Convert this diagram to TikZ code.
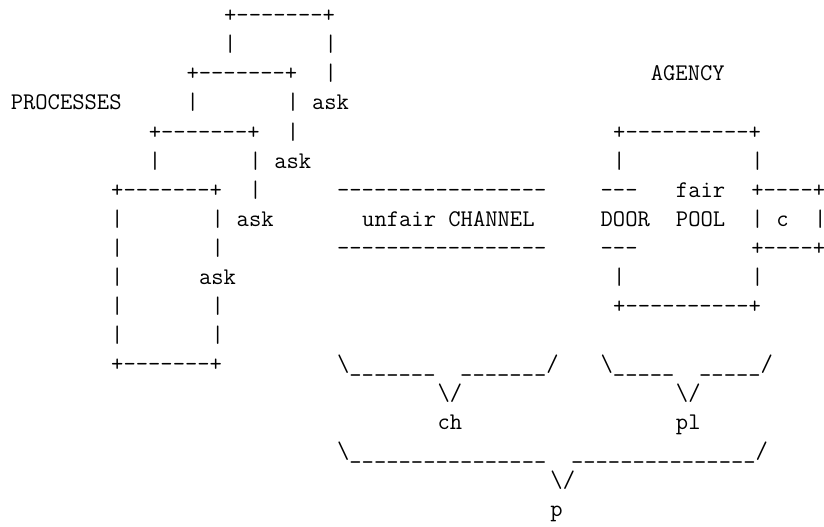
\documentclass[tikz,border=0pt]{standalone}
\newcommand\asciifont{\ttfamily\fontsize{17.93pt}{21.8pt}\selectfont}
% repeat a glyph n times, each in its own group so no ligatures form
\newcommand\rpt[2]{\foreach \k in {1,...,#1}{#2}}
\newcommand\bs{\textbackslash}
\tikzset{ascii/.style={anchor=base west, inner sep=0pt, outer sep=0pt, font=\asciifont}}
\begin{document}
\begin{tikzpicture}
\fill[white] (0pt,0pt) rectangle (618pt,-395.25pt);
\useasboundingbox (0pt,0pt) rectangle (618pt,-395.25pt);
\begin{scope}[shift={(8.1pt,-17.1pt)}, x=9.4125pt, y=-21.8pt]
% PROCESSES: a stack of boxes, each hanging by an "ask" line
\node[ascii] (p1top)  at (17,0) {+\rpt{7}{-}+};
\node[ascii] (p1l1)   at (17,1) {|};
\node[ascii] (p1r1)   at (25,1) {|};
\node[ascii] (p2top)  at (14,2) {+\rpt{7}{-}+};
\node[ascii] (p1r2)   at (25,2) {|};
\node[ascii] (agency) at (51,2) {AGENCY};
\node[ascii] (procs)  at (0,3)  {PROCESSES};
\node[ascii] (p2l1)   at (14,3) {|};
\node[ascii] (p2r1)   at (22,3) {|};
\node[ascii] (ask1)   at (24,3) {ask};
\node[ascii] (p3top)  at (11,4) {+\rpt{7}{-}+};
\node[ascii] (p2r2)   at (22,4) {|};
\node[ascii] (agtop)  at (48,4) {+\rpt{10}{-}+};
\node[ascii] (p3l1)   at (11,5) {|};
\node[ascii] (p3r1)   at (19,5) {|};
\node[ascii] (ask2)   at (21,5) {ask};
\node[ascii] (agl1)   at (48,5) {|};
\node[ascii] (agr1)   at (59,5) {|};
\node[ascii] (p4top)  at (8,6)  {+\rpt{7}{-}+};
\node[ascii] (p3r2)   at (19,6) {|};
\node[ascii] (chtop)  at (26,6) {\rpt{17}{-}};
\node[ascii] (drtop)  at (47,6) {\rpt{3}{-}};
\node[ascii] (fair)   at (53,6) {fair};
\node[ascii] (ctop)   at (59,6) {+\rpt{4}{-}+};
\node[ascii] (p4l1)   at (8,7)  {|};
\node[ascii] (p4r1)   at (16,7) {|};
\node[ascii] (ask3)   at (18,7) {ask};
\node[ascii] (chan)   at (28,7) {unfair CHANNEL};
\node[ascii] (door)   at (47,7) {DOOR};
\node[ascii] (pool)   at (53,7) {POOL};
\node[ascii] (cl)     at (59,7) {|};
\node[ascii] (cc)     at (61,7) {c};
\node[ascii] (cr)     at (64,7) {|};
\node[ascii] (p4l2)   at (8,8)  {|};
\node[ascii] (p4r2)   at (16,8) {|};
\node[ascii] (chbot)  at (26,8) {\rpt{17}{-}};
\node[ascii] (drbot)  at (47,8) {\rpt{3}{-}};
\node[ascii] (cbot)   at (59,8) {+\rpt{4}{-}+};
\node[ascii] (p4l3)   at (8,9)  {|};
\node[ascii] (ask4)   at (15,9) {ask};
\node[ascii] (agl2)   at (48,9) {|};
\node[ascii] (agr2)   at (59,9) {|};
\node[ascii] (p4l4)   at (8,10) {|};
\node[ascii] (p4r3)   at (16,10) {|};
\node[ascii] (agbot)  at (48,10) {+\rpt{10}{-}+};
\node[ascii] (p4l5)   at (8,11) {|};
\node[ascii] (p4r4)   at (16,11) {|};
\node[ascii] (p4bot)  at (8,12) {+\rpt{7}{-}+};
% braces collecting the channel, the pool, and both
\node[ascii] (chbr)   at (26,12) {\bs\rpt{7}{\_}~~\rpt{7}{\_}/};
\node[ascii] (plbr)   at (47,12) {\bs\rpt{5}{\_}~~\rpt{5}{\_}/};
\node[ascii] (chv)    at (34,13) {\bs/};
\node[ascii] (plv)    at (53,13) {\bs/};
\node[ascii] (ch)     at (34,14) {ch};
\node[ascii] (pl)     at (53,14) {pl};
\node[ascii] (allbr)  at (26,15) {\bs\rpt{16}{\_}~~\rpt{15}{\_}/};
\node[ascii] (pv)     at (43,16) {\bs/};
\node[ascii] (p)      at (43,17) {p};
\end{scope}
\end{tikzpicture}
\end{document}
